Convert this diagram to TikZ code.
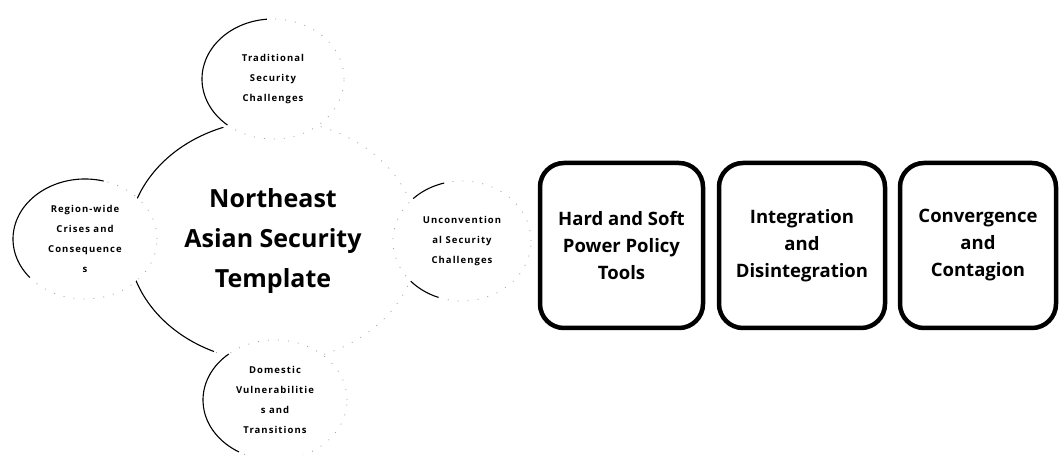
\documentclass[tikz,border=0pt]{standalone}
\usepackage{fontspec}
\setmainfont{Open Sans}
\newfontfamily\satfont[LetterSpace=11]{Open Sans}
\usetikzlibrary{shapes.geometric,calc}
\tikzset{
  disc/.style={ellipse, fill=white, inner sep=0pt, align=center},
  sat/.style={disc, minimum width=142pt, minimum height=120pt,
    font=\satfont\bfseries\fontsize{9.5}{20}\selectfont},
  hub/.style={disc, minimum width=290pt, minimum height=242pt,
    font=\bfseries\fontsize{25}{40}\selectfont},
  rim/.style={line width=1.1pt, black},
  faint/.style={line width=0.8pt, black!35, dash pattern=on 1pt off 9pt},
  card/.style={draw, line width=4.5pt, rounded corners=24pt, minimum height=165pt,
    align=center, font=\bfseries\fontsize{18.5}{27}\selectfont},
}
% outline of an ellipse around node #1: faint all round, solid from #4 to #5 degrees
\newcommand\rimarcs[5]{%
  \draw[faint] (#1) ellipse[x radius=#2pt, y radius=#3pt];
  \draw[rim] ($(#1)+(#4:#2pt and #3pt)$) arc[start angle=#4, end angle=#5, x radius=#2pt, y radius=#3pt];
}
\newcommand\solidarc[5]{%
  \draw[rim] ($(#1)+(#4:#2pt and #3pt)$) arc[start angle=#4, end angle=#5, x radius=#2pt, y radius=#3pt];
}
\begin{document}
\begin{tikzpicture}[x=1pt,y=1pt]
  \useasboundingbox[fill=white] (0,0) rectangle (1061,455);

  % central template
  \node[hub] (hub) at (273,214) {Northeast\\Asian Security\\Template};
  \rimarcs{hub}{145}{121}{110}{246}

  % satellites
  \node[sat] (trad) at (273,376) {Traditional\\Security\\Challenges};
  \rimarcs{trad}{71}{60}{95}{230}

  \node[sat] (region) at (85,216) {Region-wide\\Crises and\\Consequence\\s};
  \rimarcs{region}{72}{60}{75}{220}

  \node[sat] (domestic) at (275,55) {Domestic\\Vulnerabilitie\\s and\\Transitions};
  \rimarcs{domestic}{72}{60}{130}{240}

  \node[sat] (unconv) at (462,214) {Unconvention\\al Security\\Challenges};
  \draw[faint] (unconv) ellipse[x radius=69pt, y radius=60pt];
  \solidarc{unconv}{69}{60}{105}{135}
  \solidarc{unconv}{69}{60}{222}{250}

  % dynamics boxes
  \node[card, minimum width=163pt] (hardsoft) at (621.5,209.5) {Hard and Soft\\Power Policy\\Tools};
  \node[card, minimum width=166pt] (integ) at (802,209.5) {Integration\\and\\Disintegration};
  \node[card, minimum width=156pt] (converg) at (978,209.5) {Convergence\\and\\Contagion};
\end{tikzpicture}
\end{document}
